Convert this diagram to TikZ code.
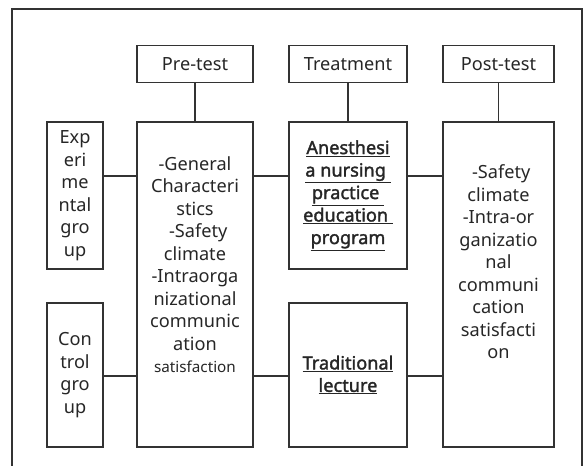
\documentclass[tikz,border=0pt]{standalone}
\usepackage{fontspec}
\setsansfont{Noto Sans}
\newfontfamily\boldsans{Noto Sans}[FakeBold=1.8]
\usetikzlibrary{positioning}

\begin{document}
\begin{tikzpicture}[
    node distance=1.14cm and 1cm,
    box/.style={rectangle, draw=black!80, line width=1.1pt, align=center, inner sep=2pt, text=black!85, font=\sffamily\fontsize{15.5}{19.2}\selectfont},
    headbox/.style={box, minimum height=1.11cm},
    tallbox/.style={box, minimum height=9.75cm},
    groupbox/.style={box, minimum width=1.68cm},
    treatbox/.style={box, minimum width=3.54cm, font=\boldsans\fontsize{15.5}{19.2}\selectfont},
    txt/.style={align=center, inner sep=0pt, text=black!85, font=\sffamily\fontsize{15.5}{19.2}\selectfont},
    link/.style={draw=black!80, line width=1.1pt}
]

% Frame
\useasboundingbox (0,0) rectangle (17.61,-13.98);
\draw [link] (0.36,-13.98) |- (17.46,-0.27) -- (17.46,-13.98);

% Nodes
\node (pre) [tallbox, minimum width=3.48cm] at (5.85,-8.535) {};
\node (post) [tallbox, minimum width=3.33cm] at (14.955,-8.535) {};

\node (exp) [groupbox, minimum height=4.41cm] at (2.25,-5.865) {Exp\\eri\\me\\ntal\\gro\\up};
\node (ctrl) [groupbox, minimum height=4.32cm] at (2.25,-11.25) {Con\\trol\\gro\\up};

\node (edu) [treatbox, minimum height=4.41cm] at (10.44,-5.865) {\underline{Anesthesi}\\\underline{a nursing\ }\\\underline{practice\ }\\\underline{education\ }\\\underline{program}};
\node (lect) [treatbox, minimum height=4.32cm] at (10.44,-11.25) {\underline{Traditional}\\\underline{lecture}};

\node (pretest) [headbox, minimum width=3.48cm, above=of pre] {Pre-test};
\node (treat) [headbox, minimum width=3.54cm] at (pretest -| edu) {Treatment};
\node (posttest) [headbox, minimum width=3.33cm, above=of post] {Post-test};

\node (pretxt) [txt] at ([yshift=0.6cm]pre.center) {-General\\Characteri\\stics\\\hspace*{0.35em}-Safety\\climate\\-Intraorga\\nizational\\communic\\ation\\{\fontsize{13}{19.2}\selectfont satisfaction}};
\node (posttxt) [txt] at ([yshift=0.675cm]post.center) {\hspace*{0.3em}-Safety\\climate\\-Intra-or\\ganizatio\\nal\\communi\\cation\\satisfacti\\on};

\coordinate (row1) at (0,-5.28);
\coordinate (row2) at (0,-11.28);

% Lines
\draw [link] (pretest) -- (pre);
\draw [link] (treat) -- (edu);
\draw [link] (posttest) -- (post);
\draw [link] (exp.east |- row1) -- (pre.west |- row1);
\draw [link] (pre.east |- row1) -- (edu.west |- row1);
\draw [link] (edu.east |- row1) -- (post.west |- row1);
\draw [link] (ctrl.east |- row2) -- (pre.west |- row2);
\draw [link] (pre.east |- row2) -- (lect.west |- row2);
\draw [link] (lect.east |- row2) -- (post.west |- row2);

\end{tikzpicture}
\end{document}
